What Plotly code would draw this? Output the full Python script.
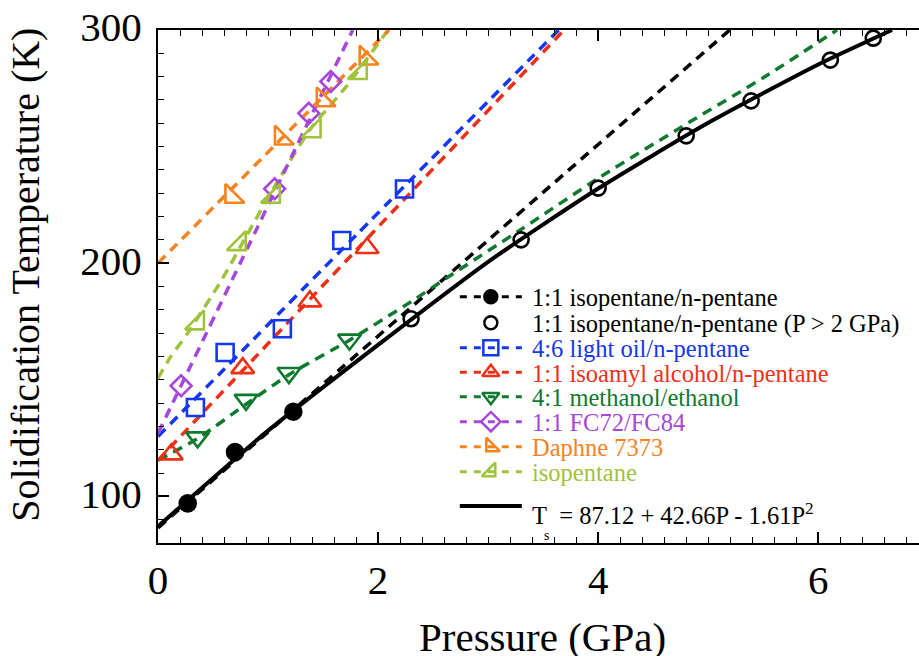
import plotly.graph_objects as go

# ---------------- data ----------------
# 1:1 isopentane/n-pentane (filled circles, P < 2 GPa)
P_ipnp = [0.27, 0.70, 1.23]
T_ipnp = [97.0, 119.0, 136.3]
# 1:1 isopentane/n-pentane (P > 2 GPa, open circles)
P_ipnp_hp = [2.30, 3.30, 4.00, 4.80, 5.39, 6.11, 6.50]
T_ipnp_hp = [176.2, 210.0, 232.2, 254.6, 269.6, 287.1, 296.5]
# 4:6 light oil/n-pentane
P_oil = [0.34, 0.61, 1.13, 1.67, 2.24]
T_oil = [138.1, 161.7, 171.9, 209.7, 231.8]
# 1:1 isoamyl alcohol/n-pentane
P_alc = [0.12, 0.77, 1.38, 1.90]
T_alc = [118.0, 155.0, 183.6, 206.5]
# 4:1 methanol/ethanol
P_meth = [0.36, 0.80, 1.19, 1.74]
T_meth = [125.3, 141.4, 152.9, 167.2]
# 1:1 FC72/FC84
P_fc = [0.21, 1.06, 1.37, 1.57]
T_fc = [147.4, 231.9, 264.3, 277.9]
# Daphne 7373
P_daph = [0.67, 1.12, 1.50, 1.89]
T_daph = [228.6, 253.6, 270.0, 287.9]
# isopentane
P_isop = [0.36, 0.74, 1.05, 1.42, 1.84]
T_isop = [174.3, 208.3, 228.6, 256.7, 281.7]

# dashed guide curves
fitP_ipnp = [0.0, 2.6, 5.2]
fitT_ipnp = [86.5, 193.4, 300.2]
fitP_oil = [0.0, 1.8, 3.64]
fitT_oil = [125.7, 212.0, 300.0]
fitP_alc = [0.0, 1.85, 3.69]
fitT_alc = [115.5, 208.0, 300.0]
fitP_meth = [0.0, 0.36, 0.80, 1.20, 1.74, 2.30, 2.65, 3.30, 4.02, 4.83, 5.50, 6.17]
fitT_meth = [115.5, 124.8, 139.5, 152.5, 167.0, 183.5, 194.5, 214.5, 237.0, 260.5, 279.5, 300.0]
fitP_fc = [0.0, 0.9, 1.77]
fitT_fc = [127.0, 215.0, 300.0]
fitP_daph = [0.0, 1.05, 2.10]
fitT_daph = [200.0, 250.0, 300.0]
fitP_isop = [0.0, 0.11, 0.26, 0.58, 0.80, 1.06, 1.38, 1.71, 2.09]
fitT_isop = [150.7, 159.5, 169.3, 192.9, 211.4, 232.9, 257.2, 275.7, 300.0]
# solid curve T_s(P)
fitP_ts = [0.0, 1.0, 2.0, 3.0, 4.0, 5.0, 6.0, 6.67]
fitT_ts = [87.1, 128.2, 165.0, 200.6, 232.0, 260.2, 285.2, 300.0]

# legend labels
legend_labels = [
    "1:1 isopentane/n-pentane",
    "1:1 isopentane/n-pentane (P > 2 GPa)",
    "4:6 light oil/n-pentane",
    "1:1 isoamyl alcohol/n-pentane",
    "4:1 methanol/ethanol",
    "1:1 FC72/FC84",
    "Daphne 7373",
    "isopentane",
]
formula_label = "T&nbsp;&nbsp;= 87.12 + 42.66P - 1.61P<sup>2</sup>"

# ---------------- styles ----------------
BLACK = "#000000"
BLUE = "#1437F0"
RED = "#EE3017"
GREEN = "#0E7A2E"
PURPLE = "#A646DC"
ORANGE = "#F7821E"
YGREEN = "#9FC33A"
FONT = "Liberation Serif, Times New Roman, serif"
DASH = "10px,7px"
LW = 3.5

W, H = 919, 656
PL, PR, PT, PB = 158.3, 919.0, 30.0, 543.0
X_PER_GPA = 110.0


def px2paper_x(px):
    return (px - PL) / (PR - PL)


def px2paper_y(py):
    return (PB - py) / (PB - PT)


fig = go.Figure()


def dashed(px, py, color):
    fig.add_trace(go.Scatter(x=px, y=py, mode="lines", line=dict(color=color, width=LW, dash=DASH,
                                                                  shape="spline", smoothing=0.6),
                             hoverinfo="skip", showlegend=False))


def pts(px, py, color, symbol, size):
    fig.add_trace(go.Scatter(x=px, y=py, mode="markers",
                             marker=dict(symbol=symbol, size=size, color=color,
                                         line=dict(color=color, width=2.6)),
                             showlegend=False))


# solid curve
fig.add_trace(go.Scatter(x=fitP_ts, y=fitT_ts, mode="lines",
                         line=dict(color=BLACK, width=4, shape="spline", smoothing=0.6),
                         hoverinfo="skip", showlegend=False))
dashed(fitP_ipnp, fitT_ipnp, BLACK)
dashed(fitP_meth, fitT_meth, GREEN)
dashed(fitP_alc, fitT_alc, RED)
dashed(fitP_oil, fitT_oil, BLUE)
dashed(fitP_isop, fitT_isop, YGREEN)
dashed(fitP_fc, fitT_fc, PURPLE)
dashed(fitP_daph, fitT_daph, ORANGE)

pts(P_ipnp, T_ipnp, BLACK, "circle", 16)
pts(P_ipnp_hp, T_ipnp_hp, BLACK, "circle-open", 15)
pts(P_oil, T_oil, BLUE, "square-open", 17)
pts(P_alc, T_alc, RED, "triangle-up-open", 20)
pts(P_meth, T_meth, GREEN, "triangle-down-open", 20)
pts(P_fc, T_fc, PURPLE, "diamond-open", 16)
pts(P_daph, T_daph, ORANGE, "triangle-sw-open", 21)
pts(P_isop, T_isop, YGREEN, "triangle-se-open", 21)

# ---------------- custom legend (overlay axis in pixel units) ----------------
leg_colors = [BLACK, BLACK, BLUE, RED, GREEN, PURPLE, ORANGE, YGREEN]
leg_symbols = ["circle", "circle-open", "square-open", "triangle-up-open", "triangle-down-open",
               "diamond-open", "triangle-sw-open", "triangle-se-open"]
leg_rows = [296.7, 322.7, 347.7, 372.3, 396.7, 421.7, 446.7, 471.7]
lx0, lxm, lx1, ltx = 460.0, 491.0, 522.0, 530.0
for i, (lab, col, sym, ry) in enumerate(zip(legend_labels, leg_colors, leg_symbols, leg_rows)):
    if i != 1:
        fig.add_trace(go.Scatter(x=[lx0, lx1], y=[ry, ry], xaxis="x2", yaxis="y2", mode="lines",
                                 line=dict(color=col, width=3, dash="7px,7px"),
                                 hoverinfo="skip", showlegend=False))
    fig.add_trace(go.Scatter(x=[lxm], y=[ry], xaxis="x2", yaxis="y2", mode="markers",
                             marker=dict(symbol=sym, size=13 if i < 2 else 15, color=col,
                                         line=dict(color=col, width=2.5)),
                             hoverinfo="skip", showlegend=False))
    fig.add_annotation(x=ltx, y=ry + 1, xref="x2", yref="y2", text=lab, showarrow=False,
                       xanchor="left", yanchor="middle", font=dict(family=FONT, size=24.5, color=col))

fig.add_trace(go.Scatter(x=[lx0, lx1], y=[506, 506], xaxis="x2", yaxis="y2", mode="lines",
                         line=dict(color=BLACK, width=4), hoverinfo="skip", showlegend=False))
fig.add_annotation(x=ltx, y=514, xref="x2", yref="y2", text=formula_label, showarrow=False,
                   xanchor="left", yanchor="middle", font=dict(family=FONT, size=24.5, color=BLACK))
fig.add_annotation(x=546.7, y=535, xref="x2", yref="y2", text="s", showarrow=False,
                   xanchor="center", yanchor="middle", font=dict(family=FONT, size=14, color=BLACK))

# axis titles
fig.add_annotation(x=px2paper_x(543), y=px2paper_y(637), xref="paper", yref="paper",
                   text="Pressure (GPa)", showarrow=False,
                   xanchor="center", yanchor="middle", font=dict(family=FONT, size=41, color=BLACK))
fig.add_annotation(x=px2paper_x(25), y=px2paper_y(275), xref="paper", yref="paper",
                   text="Solidification Temperature (K)",
                   showarrow=False, textangle=-90, xanchor="center", yanchor="middle",
                   font=dict(family=FONT, size=40, color=BLACK))

axis_common = dict(showline=True, linecolor=BLACK, linewidth=2, ticks="inside", tickcolor=BLACK,
                   tickwidth=1.5, ticklen=11, showgrid=False, zeroline=False,
                   tickfont=dict(family=FONT, size=41, color=BLACK))

fig.update_layout(
    width=W, height=H,
    margin=dict(l=PL, r=W - PR, t=PT, b=H - PB, pad=0),
    paper_bgcolor="white", plot_bgcolor="white",
    font=dict(family=FONT, color=BLACK),
    showlegend=False,
    xaxis=dict(range=[0, (PR - PL) / X_PER_GPA], dtick=2, tick0=0, mirror="allticks",
               minor=dict(dtick=0.2, ticklen=6, tickwidth=1.2, ticks="inside", tickcolor=BLACK),
               ticklabelstandoff=0, **axis_common),
    yaxis=dict(range=[80, 300], dtick=100, tick0=0, mirror=False,
               minor=dict(dtick=10, ticklen=6, tickwidth=1.2, ticks="inside", tickcolor=BLACK),
               ticklabelstandoff=6, ticklabelshift=-3, **axis_common),
    xaxis2=dict(overlaying="x", range=[PL, PR], visible=False, fixedrange=True),
    yaxis2=dict(overlaying="y", range=[PB, PT], visible=False, fixedrange=True),
)

fig.write_html("out.html", config=dict(displayModeBar=False),
               post_script="document.body.style.margin='0';document.body.style.overflow='hidden';")
